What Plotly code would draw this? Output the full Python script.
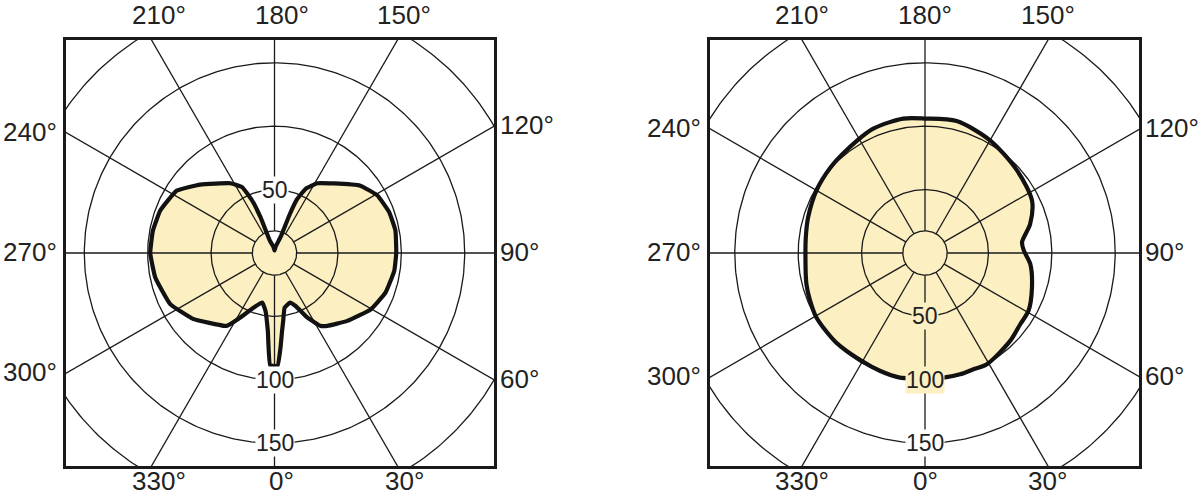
import numpy as np
import plotly.graph_objects as go

# ---------------- data ----------------
# angle in degrees: 0 at bottom, 90 at right, 180 at top, 270 at left
left_theta = [1.5, 3.6, 5.5, 7.3, 10.4, 17.3, 21.7, 26.9, 32.3, 35.9, 47.0, 59.7,
              70.5, 81.6, 90.0, 100.5, 109.6, 119.2, 128.1, 139.6, 148.5, 154.2,
              157.2, 158.5, 159.0, 170.0, 180.0,
              190.0, 200.7, 201.4, 203.1, 206.2, 212.3, 227.3, 237.4, 249.6, 259.5,
              270.0, 281.6, 296.1, 309.3, 325.1, 326.9, 332.1, 339.2, 346.0, 351.1,
              355.1, 357.8]
left_r = [89.0, 75.0, 62.0, 54.0, 44.0, 41.0, 45.0, 57.0, 68.0, 71.0, 78.5, 88.0,
          93.0, 95.5, 96.0, 97.0, 96.0, 93.0, 86.0, 72.0, 64.5, 56.0,
          46.0, 32.0, 14.0, 5.0, 2.0,
          5.0, 10.4, 30.3, 45.0, 57.9, 65.1, 79.6, 91.4, 96.1, 97.5,
          98.0, 96.0, 91.6, 82.4, 70.0, 68.5, 57.5, 46.0, 40.2, 46.1,
          61.6, 88.5]

right_theta = [0.0, 8.4, 16.1, 22.6, 29.1, 44.1, 53.2, 60.8, 72.2, 84.0, 91.4, 96.3,
               105.4, 116.1, 131.9, 150.0, 166.5, 180.0, 189.2, 202.6, 217.4, 228.0,
               240.1, 253.0, 261.0, 270.0, 284.7, 292.0, 300.7, 315.0, 329.5, 339.0,
               348.6]
right_r = [98.5, 99.4, 99.6, 99.3, 100.4, 96.5, 93.8, 93.5, 88.6, 83.5, 78.0, 77.0,
           86.0, 94.0, 97.5, 102.6, 107.0, 106.0, 107.3, 106.2, 102.0, 100.5,
           98.8, 96.4, 95.0, 94.3, 96.7, 98.0, 99.6, 99.5, 98.7, 99.5,
           100.3]

ring_values = [50, 100, 150, 200]
inner_ring = 17.5
spoke_angles = list(range(0, 360, 30))
angle_labels = [f"{a}°" for a in spoke_angles]

left_ring_labels = ["50", "100", "150"]
left_ring_label_theta = [180, 0, 0]
left_ring_label_bg = ["white", "white", "white"]
right_ring_labels = ["50", "100", "150"]
right_ring_label_theta = [0, 0, 0]
right_ring_label_bg = ["#FCEFC2", "#FCEFC2", "white"]

# ---------------- styling / geometry ----------------
W, H = 1200, 495
K = 1.268                    # pixels per radial unit
FILL = "#FCEFC2"
INK = "#1a1a1a"
FONT = "Liberation Sans, Arial, sans-serif"

panels = [
    dict(theta=left_theta, r=left_r, cx=274.5, cy=253, x0=66, x1=494, y0=40, y1=466,
         labels=left_ring_labels, lab_theta=left_ring_label_theta,
         lab_bg=left_ring_label_bg, xa="x", ya="y", shift=7, smooth=0.35),
    dict(theta=right_theta, r=right_r, cx=925, cy=253, x0=710, x1=1139, y0=40, y1=466,
         labels=right_ring_labels, lab_theta=right_ring_label_theta,
         lab_bg=right_ring_label_bg, xa="x2", ya="y2", shift=0, smooth=0.8),
]


def fx(px):
    return px / W


def fy(py):
    return 1 - py / H


def pol2xy(theta_deg, r):
    t = np.radians(np.asarray(theta_deg, dtype=float))
    r = np.asarray(r, dtype=float)
    return r * np.sin(t), -r * np.cos(t)


fig = go.Figure()
annotations = []
layout_axes = {}

for i, p in enumerate(panels):
    xa, ya = p["xa"], p["ya"]
    th = list(p["theta"]) + [p["theta"][0]]
    rr = list(p["r"]) + [p["r"][0]]
    x, y = pol2xy(th, rr)

    # filled shape
    fig.add_trace(go.Scatter(x=x, y=y, mode="lines", fill="toself", fillcolor=FILL,
                             line=dict(width=0, color=FILL, shape="spline",
                                       smoothing=p["smooth"]),
                             hoverinfo="skip", xaxis=xa, yaxis=ya))

    # rings
    gx, gy = [], []
    circ = np.linspace(0, 360, 361)
    for rv in [inner_ring] + ring_values:
        cx_, cy_ = pol2xy(circ, np.full_like(circ, rv))
        gx += list(cx_) + [None]
        gy += list(cy_) + [None]
    # spokes
    for a in spoke_angles:
        sx, sy = pol2xy([a, a], [inner_ring, 320])
        gx += list(sx) + [None]
        gy += list(sy) + [None]
    fig.add_trace(go.Scatter(x=gx, y=gy, mode="lines", line=dict(width=1.3, color=INK),
                             hoverinfo="skip", xaxis=xa, yaxis=ya))

    # outline
    fig.add_trace(go.Scatter(x=x, y=y, mode="lines",
                             line=dict(width=4.2, color="#121212", shape="spline",
                                       smoothing=p["smooth"]),
                             hoverinfo="skip", xaxis=xa, yaxis=ya))

    # axis ranges in data units
    xr = [(p["x0"] - p["cx"]) / K, (p["x1"] - p["cx"]) / K]
    yr = [-(p["y1"] - p["cy"]) / K, (p["cy"] - p["y0"]) / K]
    axcommon = dict(showgrid=False, zeroline=False, showticklabels=False, ticks="",
                    showline=True, mirror=True, linecolor=INK, linewidth=2.6,
                    fixedrange=True)
    xname = "xaxis" if i == 0 else "xaxis2"
    yname = "yaxis" if i == 0 else "yaxis2"
    layout_axes[xname] = dict(domain=[fx(p["x0"]), fx(p["x1"])], range=xr,
                              anchor=ya, **axcommon)
    layout_axes[yname] = dict(domain=[fy(p["y1"]), fy(p["y0"])], range=yr,
                              anchor=xa, **axcommon)

    # ring labels
    for txt, a, bg in zip(p["labels"], p["lab_theta"], p["lab_bg"]):
        lx, ly = pol2xy([a], [float(txt)])
        annotations.append(dict(x=float(lx[0]), y=float(ly[0]), xref=xa, yref=ya,
                                text=txt, showarrow=False, bgcolor=bg, borderpad=0,
                                font=dict(family=FONT, size=23, color="#222"),
                                xanchor="center", yanchor="middle"))

    # angle labels at frame edges
    for a, lab in zip(spoke_angles, angle_labels):
        sx, sy = np.sin(np.radians(a)), np.cos(np.radians(a))
        ts = []
        if sy < -1e-9:
            ts.append(((p["y0"] - p["cy"]) / sy, "top"))
        if sy > 1e-9:
            ts.append(((p["y1"] - p["cy"]) / sy, "bottom"))
        if sx < -1e-9:
            ts.append(((p["x0"] - p["cx"]) / sx, "left"))
        if sx > 1e-9:
            ts.append(((p["x1"] - p["cx"]) / sx, "right"))
        t, side = min(ts)
        ix, iy = p["cx"] + t * sx, p["cy"] + t * sy
        if side == "top":
            px, py, xan = ix + p["shift"], 15, "center"
        elif side == "bottom":
            px, py, xan = ix + p["shift"], 481, "center"
        elif side == "left":
            px, py, xan = p["x0"] - 7, iy - 1, "right"
        else:
            px, py, xan = p["x1"] + 4, iy - 1, "left"
        annotations.append(dict(x=fx(px), y=fy(py), xref="paper", yref="paper",
                                text=lab, showarrow=False, xanchor=xan, yanchor="middle",
                                font=dict(family=FONT, size=26, color="#222")))

fig.update_layout(width=W, height=H, margin=dict(l=0, r=0, t=0, b=0),
                  paper_bgcolor="white", plot_bgcolor="white", showlegend=False,
                  annotations=annotations, **layout_axes)

# remove the default page margin so the 1200x495 figure fills the window exactly
fig.write_html("out.html",
               config={"displayModeBar": False},
               post_script="document.body.style.margin='0';"
                           "document.body.style.overflow='hidden';")
